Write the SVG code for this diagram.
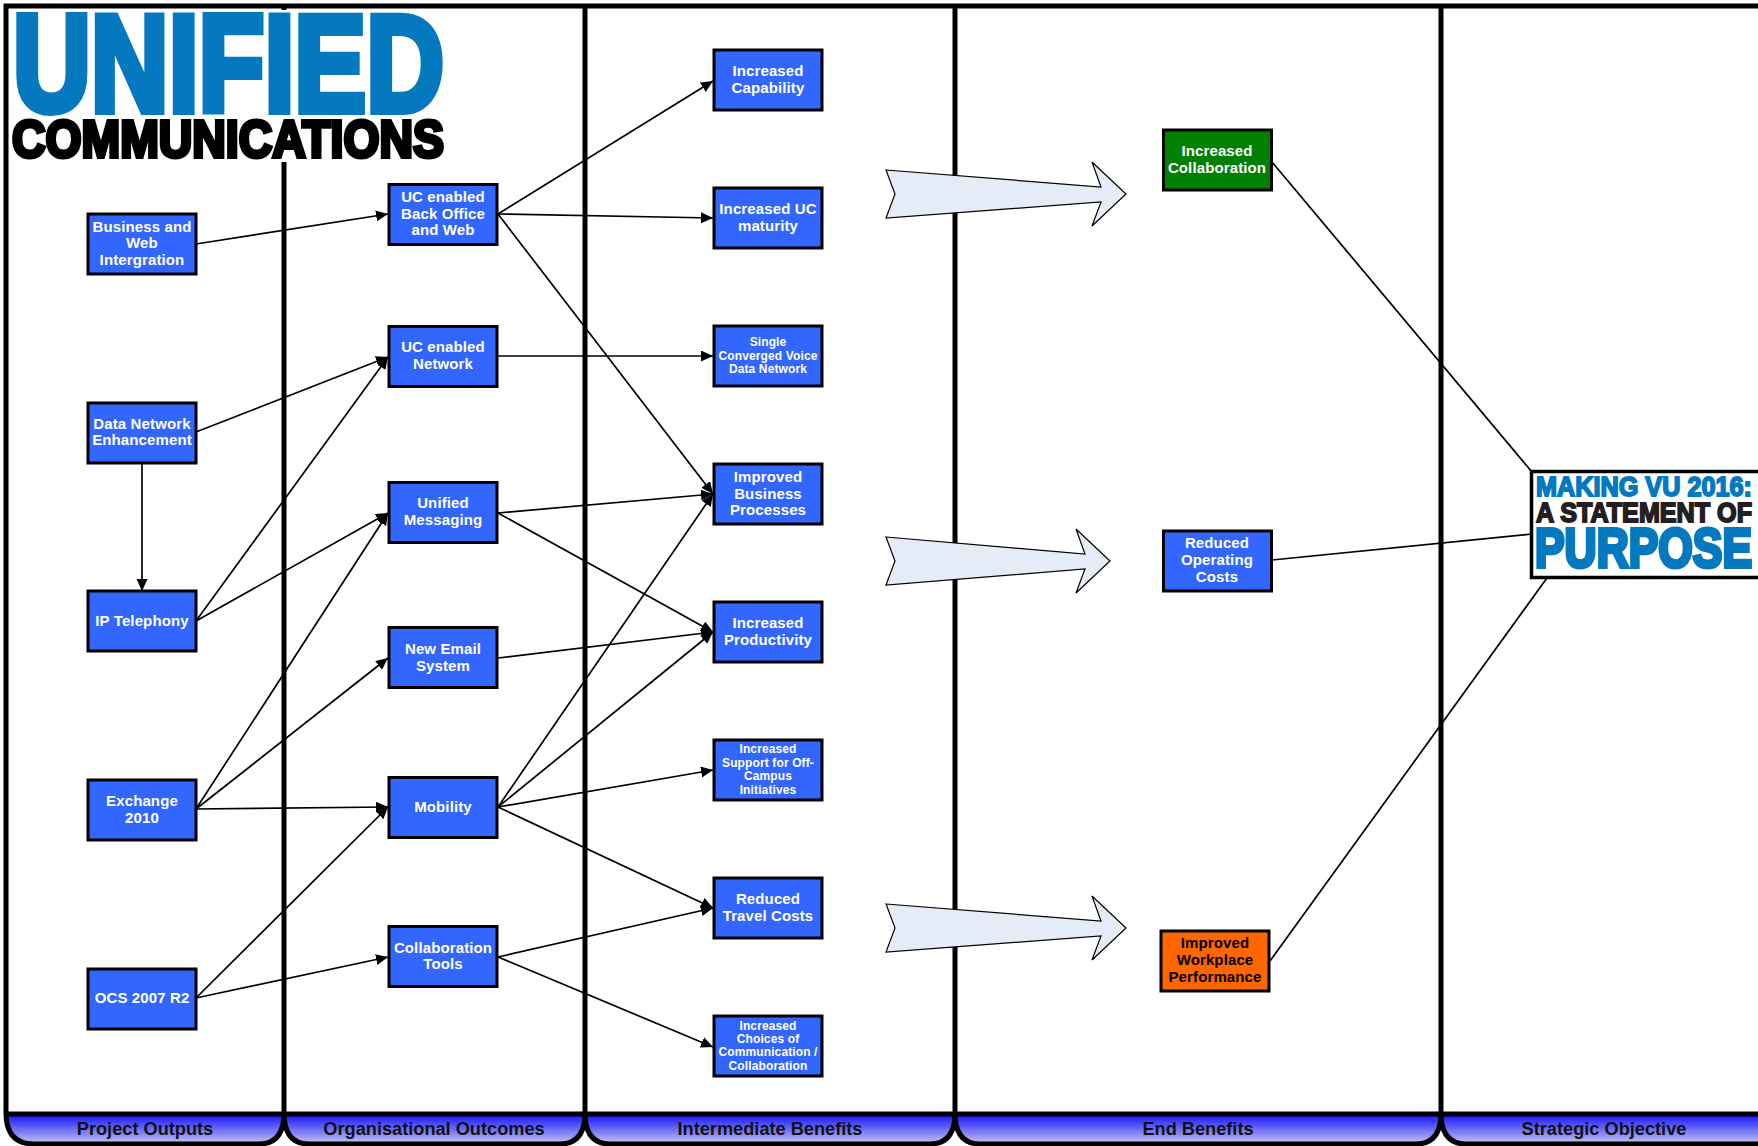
<svg xmlns="http://www.w3.org/2000/svg" width="1758" height="1146" viewBox="0 0 1758 1146">
<style>
.n{fill:#3366ff;stroke:#000;stroke-width:3}
.t{font-family:"Liberation Sans",Arial,sans-serif;font-weight:700;font-size:15px;fill:#fff;text-anchor:middle;letter-spacing:.12px}
.s{font-size:12px}
.k{fill:#000}
.c{fill:none;stroke:#000;stroke-width:1.7;marker-end:url(#a)}
.p{fill:none;stroke:#000;stroke-width:1.7}
.b{fill:#e6ecf7;stroke:#000;stroke-width:1.2}
.v{stroke:#000;stroke-width:5;fill:none}
.f{font-family:"Liberation Sans",Arial,sans-serif;font-weight:700;font-size:18.2px;fill:#111;text-anchor:middle}
.l{font-family:"Liberation Sans",Arial,sans-serif;font-weight:700}
</style>
<defs>
<marker id="a" markerUnits="userSpaceOnUse" markerWidth="13" markerHeight="12" refX="12" refY="5.5" orient="auto"><path d="M0 0L12 5.5L0 11Z" fill="#000"/></marker>
<linearGradient id="g" x1="0" y1="0" x2="0" y2="1"><stop offset="0" stop-color="#0a0aff"/><stop offset="1" stop-color="#d2d2ee"/></linearGradient>
</defs>
<rect width="1758" height="1146" fill="#fff"/>
<g id="lanes">
<path id="footer-fill" d="M6 1113H1758V1146H1466Q1441 1146 1441 1118Q1441 1146 1416 1146H980Q955 1146 955 1118Q955 1146 930 1146H610Q585 1146 585 1118Q585 1146 560 1146H309Q284 1146 284 1118Q284 1146 259 1146H34Q6 1146 6 1113Z" fill="url(#g)"/>
<path class="v" d="M1758 6H6V1113Q6 1144 34 1144H259Q284 1144 284 1113Q284 1144 309 1144H560Q585 1144 585 1113Q585 1144 610 1144H930Q955 1144 955 1113Q955 1144 980 1144H1416Q1441 1144 1441 1113Q1441 1144 1466 1144H1758"/>
<path class="v" d="M284 6V1113M585 6V1113M955 6V1113M1441 6V1113M6 1114H1758"/>
<text class="f" x="145" y="1135">Project Outputs</text>
<text class="f" x="434" y="1135">Organisational Outcomes</text>
<text class="f" x="770" y="1135">Intermediate Benefits</text>
<text class="f" x="1198" y="1135">End Benefits</text>
<text class="f" x="1604" y="1135">Strategic Objective</text>
</g>
<g id="logo">
<rect x="10" y="10" width="440" height="152" fill="#fff"/>
<text class="l" x="13" y="111" font-size="137" textLength="431" lengthAdjust="spacingAndGlyphs" fill="#0479c0" stroke="#0479c0" stroke-width="8">UNIFIED</text>
<text class="l" x="12" y="157" font-size="52" textLength="432" lengthAdjust="spacingAndGlyphs" fill="#000" stroke="#000" stroke-width="4">COMMUNICATIONS</text>
</g>
<g id="connectors">
<path class="c" d="M196 244L388 214"/>
<path class="c" d="M196 432L388 357"/>
<path class="c" d="M142 463V591"/>
<path class="c" d="M196 621L388 357"/>
<path class="c" d="M196 621L388 513"/>
<path class="c" d="M196 809L388 513"/>
<path class="c" d="M196 809L388 658"/>
<path class="c" d="M196 809L388 807"/>
<path class="c" d="M196 998L388 807"/>
<path class="c" d="M196 998L388 957"/>
<path class="c" d="M498 214L713 81"/>
<path class="c" d="M498 214L713 218"/>
<path class="c" d="M498 214L713 494"/>
<path class="c" d="M498 356H713"/>
<path class="c" d="M498 513L713 494"/>
<path class="c" d="M498 513L713 632"/>
<path class="c" d="M498 658L713 632"/>
<path class="c" d="M498 807L713 494"/>
<path class="c" d="M498 807L713 632"/>
<path class="c" d="M498 807L713 770"/>
<path class="c" d="M498 807L713 908"/>
<path class="c" d="M498 957L713 908"/>
<path class="c" d="M498 957L713 1047"/>
<path class="p" d="M1272 162L1532 472"/>
<path class="p" d="M1272 560L1532 534"/>
<path class="p" d="M1270 961L1547 578"/>
</g>
<g id="block-arrows">
<polygon class="b" points="886,170 1101,187 1092,162 1126,194 1092,226 1101,202 886,218 895,194"/>
<polygon class="b" points="886,537 1085,554 1076,529 1110,561 1076,593 1085,569 886,585 895,561"/>
<polygon class="b" points="886,904 1101,921 1092,896 1126,928 1092,960 1101,936 886,952 895,928"/>
</g>
<g id="n1"><rect class="n" x="88" y="214" width="108" height="60"/><text class="t" x="142" y="232">Business and</text><text class="t" x="142" y="248">Web</text><text class="t" x="142" y="265">Intergration</text></g>
<g id="n2"><rect class="n" x="88" y="403" width="108" height="60"/><text class="t" x="142" y="429">Data Network</text><text class="t" x="142" y="445">Enhancement</text></g>
<g id="n3"><rect class="n" x="88" y="591" width="108" height="60"/><text class="t" x="142" y="626">IP Telephony</text></g>
<g id="n4"><rect class="n" x="88" y="780" width="108" height="60"/><text class="t" x="142" y="806">Exchange</text><text class="t" x="142" y="823">2010</text></g>
<g id="n5"><rect class="n" x="88" y="969" width="108" height="60"/><text class="t" x="142" y="1003">OCS 2007 R2</text></g>
<g id="n6"><rect class="n" x="389" y="184.500" width="108" height="60"/><text class="t" x="443" y="202">UC enabled</text><text class="t" x="443" y="219">Back Office</text><text class="t" x="443" y="235">and Web</text></g>
<g id="n7"><rect class="n" x="389" y="326.500" width="108" height="60"/><text class="t" x="443" y="352">UC enabled</text><text class="t" x="443" y="369">Network</text></g>
<g id="n8"><rect class="n" x="389" y="482.500" width="108" height="60"/><text class="t" x="443" y="508">Unified</text><text class="t" x="443" y="525">Messaging</text></g>
<g id="n9"><rect class="n" x="389" y="627.500" width="108" height="60"/><text class="t" x="443" y="654">New Email</text><text class="t" x="443" y="671">System</text></g>
<g id="n10"><rect class="n" x="389" y="777.500" width="108" height="60"/><text class="t" x="443" y="812">Mobility</text></g>
<g id="n11"><rect class="n" x="389" y="926.500" width="108" height="60"/><text class="t" x="443" y="953">Collaboration</text><text class="t" x="443" y="969">Tools</text></g>
<g id="n12"><rect class="n" x="714" y="50" width="108" height="60"/><text class="t" x="768" y="76">Increased</text><text class="t" x="768" y="93">Capability</text></g>
<g id="n13"><rect class="n" x="714" y="188" width="108" height="60"/><text class="t" x="768" y="214">Increased UC</text><text class="t" x="768" y="231">maturity</text></g>
<g id="n14"><rect class="n" x="714" y="326" width="108" height="60"/><text class="t s" x="768" y="346">Single</text><text class="t s" x="768" y="360">Converged Voice</text><text class="t s" x="768" y="373">Data Network</text></g>
<g id="n15"><rect class="n" x="714" y="464" width="108" height="60"/><text class="t" x="768" y="482">Improved</text><text class="t" x="768" y="499">Business</text><text class="t" x="768" y="515">Processes</text></g>
<g id="n16"><rect class="n" x="714" y="602" width="108" height="60"/><text class="t" x="768" y="628">Increased</text><text class="t" x="768" y="645">Productivity</text></g>
<g id="n17"><rect class="n" x="714" y="740" width="108" height="60"/><text class="t s" x="768" y="753">Increased</text><text class="t s" x="768" y="767">Support for Off-</text><text class="t s" x="768" y="780">Campus</text><text class="t s" x="768" y="794">Initiatives</text></g>
<g id="n18"><rect class="n" x="714" y="878" width="108" height="60"/><text class="t" x="768" y="904">Reduced</text><text class="t" x="768" y="921">Travel Costs</text></g>
<g id="n19"><rect class="n" x="714" y="1016" width="108" height="60"/><text class="t s" x="768" y="1030">Increased</text><text class="t s" x="768" y="1043">Choices of</text><text class="t s" x="768" y="1056">Communication /</text><text class="t s" x="768" y="1070">Collaboration</text></g>
<g id="n20"><rect class="n" style="fill:#008000" x="1163.500" y="130" width="108" height="60"/><text class="t" x="1217" y="156">Increased</text><text class="t" x="1217" y="173">Collaboration</text></g>
<g id="n21"><rect class="n" x="1163.500" y="531" width="108" height="60"/><text class="t" x="1217" y="548">Reduced</text><text class="t" x="1217" y="565">Operating</text><text class="t" x="1217" y="582">Costs</text></g>
<g id="n22"><rect class="n" style="fill:#ff6600" x="1161" y="931" width="108" height="60"/><text class="t k" x="1215" y="948">Improved</text><text class="t k" x="1215" y="965">Workplace</text><text class="t k" x="1215" y="982">Performance</text></g>
<g id="n23"><rect x="1531.500" y="471.500" width="240" height="106" fill="#fff" stroke="#000" stroke-width="3.500"/>
<text class="l" x="1536" y="496" font-size="27" textLength="216" lengthAdjust="spacingAndGlyphs" fill="#0479c0" stroke="#0479c0" stroke-width="1.800">MAKING VU 2016:</text>
<text class="l" x="1536" y="522" font-size="27.500" textLength="216" lengthAdjust="spacingAndGlyphs" fill="#231f20" stroke="#231f20" stroke-width="1.800">A STATEMENT OF</text>
<text class="l" x="1535" y="567" font-size="56" textLength="217" lengthAdjust="spacingAndGlyphs" fill="#0479c0" stroke="#0479c0" stroke-width="4">PURPOSE</text></g>
</svg>
